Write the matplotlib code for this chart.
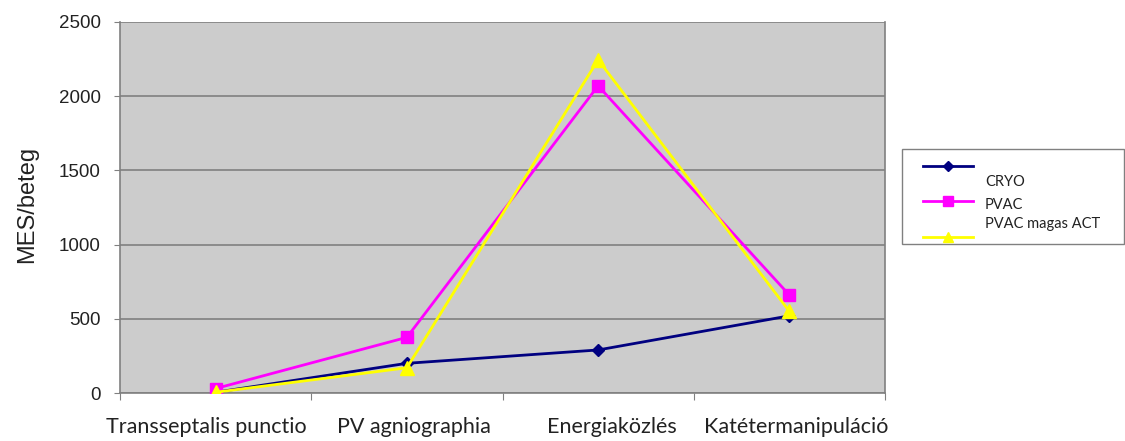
import matplotlib
matplotlib.use("Agg")
import matplotlib.pyplot as plt
from matplotlib.lines import Line2D
from matplotlib.patches import Rectangle
import numpy as np

categories = ["Transseptalis punctio", "PV agniographia", "Energiaközlés", "Katétermanipuláció"]
cryo = [5, 200, 290, 520]
pvac = [30, 375, 2070, 660]
pvac_high_act = [5, 170, 2245, 550]
yticks = [0, 500, 1000, 1500, 2000, 2500]

W, H = 1125, 441
fig = plt.figure(figsize=(W / 100, H / 100), dpi=100)
ax = fig.add_axes([120 / W, 48 / H, 765 / W, 371 / H])
ax.set_facecolor("#CCCCCC")

series = [
    ("CRYO", cryo, "#000080", "D", 6, 5),
    ("PVAC", pvac, "#FF00FF", "s", 9, 7),
    ("PVAC magas ACT", pvac_high_act, "#FFFF00", "^", 10, 7),
]

x = np.arange(len(categories))
for i, (name, vals, col, mk, ms, _) in enumerate(series):
    ax.plot(x, vals, color=col, marker=mk, markersize=ms, linewidth=2,
            label=name, zorder=3 + i)

ax.set_xlim(-0.5, len(categories) - 0.5)
ax.set_ylim(0, 2500)
ax.set_yticks(yticks)
ax.set_yticklabels([str(v) for v in yticks], fontsize=13.5, family="Liberation Sans",
                   color="#222222")
ax.yaxis.grid(True, color="#808080", linewidth=1.2)
ax.set_axisbelow(True)

# tick marks at category boundaries, labels nudged apart so long names don't collide
label_nudge = np.array([-0.05, 0.035, 0.07, 0.035])
ax.set_xticks(np.arange(-0.5, len(categories) + 0.5, 1.0))
ax.set_xticklabels([])
ax.set_xticks(x + label_nudge, minor=True)
ax.set_xticklabels(categories, minor=True, fontsize=15.5, family="Lato", color="#222222")
ax.tick_params(axis="x", which="minor", length=0, pad=17)
ax.tick_params(axis="x", which="major", length=5, color="#808080", direction="out")
ax.tick_params(axis="y", length=4, color="#808080", direction="out", pad=10)

for side in ["left", "bottom", "right"]:
    ax.spines[side].set_color("#808080")
    ax.spines[side].set_linewidth(1.2)
ax.spines["top"].set_visible(False)

ax.set_ylabel("MES/beteg", fontsize=17, family="Liberation Sans", color="#222222")
ax.yaxis.set_label_coords((38 - 120) / 765, (441 - 48 - 204) / 371)

# legend box drawn in pixel-based figure coordinates
def fx(px):
    return px / W

def fy(py):
    return 1 - py / H

fig.patches.append(Rectangle((fx(902), fy(244)), fx(1124) - fx(902), fy(149) - fy(244),
                             transform=fig.transFigure, facecolor="white",
                             edgecolor="#808080", linewidth=1.0))
handle_y = [166, 201, 237]
text_y = [182, 205, 224]
for (name, vals, col, mk, ms, lms), hy, ty in zip(series, handle_y, text_y):
    fig.lines.append(Line2D([fx(923), fx(973)], [fy(hy), fy(hy)], transform=fig.transFigure,
                            color=col, linewidth=2))
    fig.lines.append(Line2D([fx(948)], [fy(hy)], transform=fig.transFigure, color=col,
                            marker=mk, markersize=lms, linestyle="none"))
    fig.text(fx(985), fy(ty), name, fontsize=10.5, family="Lato", color="#222222",
             va="center", ha="left")

fig.savefig("out.png", dpi=100, facecolor="white")
